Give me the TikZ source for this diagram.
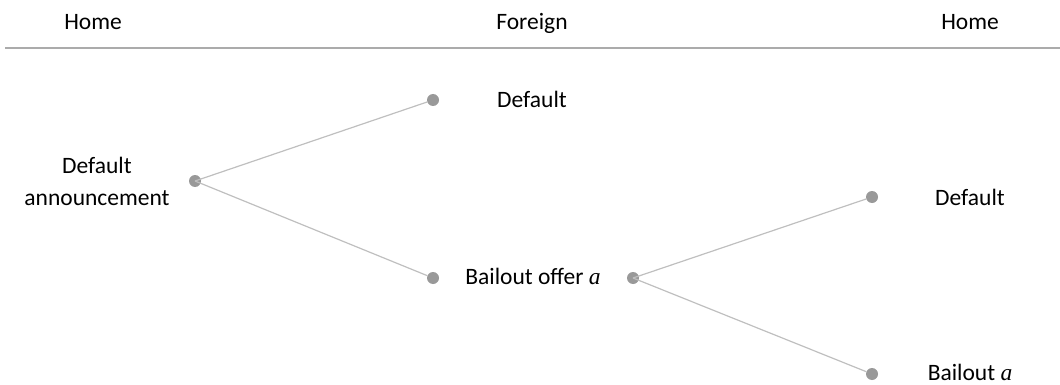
\documentclass[tikz,border=0pt]{standalone}
\usepackage{fontspec}
\setmainfont{Carlito}
\newfontfamily\myserif{Liberation Serif}
\newcommand{\va}{{\myserif\itshape a}}
\begin{document}
\begin{tikzpicture}[x=1pt,y=-1pt,
  lbl/.style={font=\fontsize{23.5}{32}\selectfont, inner sep=0pt, align=center, anchor=base},
  dot/.style={circle, fill=black!40, inner sep=0pt, minimum size=12pt},
  edge/.style={draw=black!25, line width=1.2pt}]
\useasboundingbox (0,0) rectangle (1060,385);
\node[lbl] (h1) at (93,30) {Home};
\node[lbl] (f) at (532,30) {Foreign};
\node[lbl] (h2) at (970,30) {Home};
\coordinate (l0) at (5,48);
\coordinate (l1) at (1060,48);
\draw[draw=black!33, line width=2pt] (l0) -- (l1);

\node[dot] (r) at (195,181) {};
\node[dot] (t) at (433,100) {};
\node[dot] (m) at (433,278) {};
\node[dot] (m2) at (633,278) {};
\node[dot] (rt) at (872,197) {};
\node[dot] (rb) at (872,374) {};

\draw[edge] (r.center) -- (t);
\draw[edge] (r.center) -- (m);
\draw[edge] (m2.center) -- (rt);
\draw[edge] (m2.center) -- (rb);

\node[lbl] (la) at (97,205) {Default\\announcement};
\node[lbl] (lt) at (532,108) {Default};
\node[lbl] (lm) at (533,284) {Bailout offer \va};
\node[lbl] (lrt) at (970,205) {Default};
\node[lbl] (lrb) at (970,380) {Bailout \va};
\end{tikzpicture}
\end{document}
